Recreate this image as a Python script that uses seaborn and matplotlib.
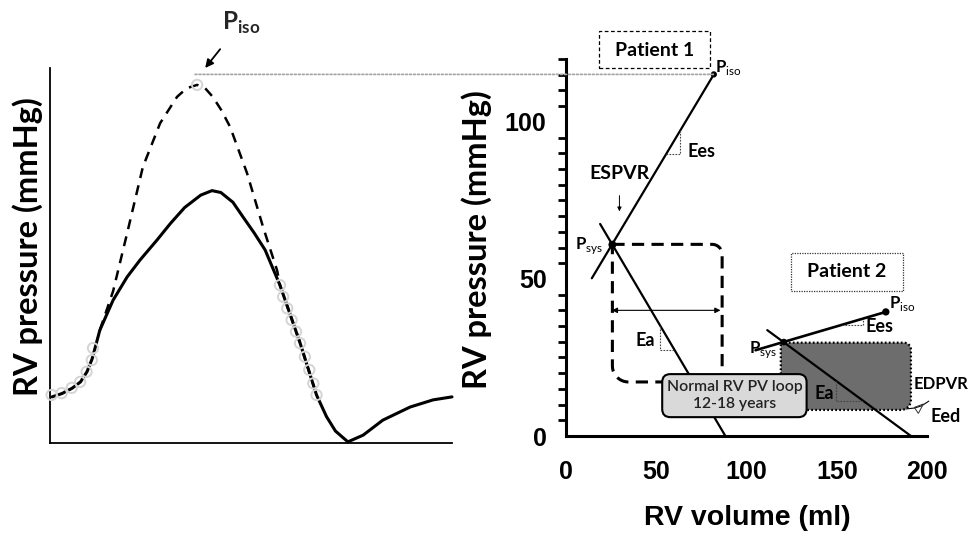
import numpy as np
import pandas as pd
import seaborn as sns
import matplotlib
import matplotlib.pyplot as plt
from matplotlib.patches import FancyBboxPatch, Rectangle, PathPatch, ConnectionPatch, Polygon
from matplotlib.path import Path
from matplotlib import transforms

matplotlib.use("Agg")

# left panel: pressure trace over one beat (arbitrary time / pressure units)
solid_t = [0.5, 3, 5.5, 7.6, 9.2, 10.5, 12.4, 15.7, 19.2, 22.4, 26.6, 30, 33.5, 37.5, 40.3, 42.5, 45.5, 48,
           50.8, 53.5, 57.2, 62.2, 66.3, 68.8, 71, 74.1, 77.9, 82.8, 89.6, 95.3, 100]
solid_p = [12.3, 13.2, 14.6, 16.3, 19, 22.5, 30.1, 38.1, 44.3, 48.8, 54.1, 58.6, 62.8, 66.1, 67.3, 66.8, 64.2, 60.3,
           56, 51.5, 42.1, 26.7, 12.8, 7.0, 3.2, 0.3, 2.1, 6.1, 9.6, 11.5, 12.3]
dashed_t = [12.4, 15.7, 19.2, 23.1, 27.4, 31.6, 34, 36.6, 38.6, 40.5, 42.6, 44.8, 49, 53, 56.5, 57.2, 62.2, 66.3]
dashed_p = [30.1, 40.5, 56, 73.6, 85.3, 92.3, 94.6, 95.5, 94.6, 92.3, 88.8, 84.3, 72, 57.6, 46, 42.1, 26.7, 12.8]
circle_t = [0.4, 2.9, 5.4, 7.5, 9.1, 10.4, 10.7, 36.6,
            57.2, 58.0, 59.0, 60.1, 61.2, 62.2, 63.4, 64.5, 65.5, 66.3]
circle_p = [12.8, 13.3, 14.7, 16.3, 19, 22.1, 25.3, 95.5,
            42.1, 39.0, 35.9, 32.8, 29.7, 26.6, 23.0, 19.5, 15.9, 12.8]

# right panel: PV relations (ml, mmHg)
espvr1_v = [14.3, 81.9]
espvr1_p = [50.2, 115.1]
ea1_v = [18.9, 88.3]
ea1_p = [67.5, 0.0]
psys1 = (25.7, 60.9)
piso1 = (81.9, 115.1)
loop1 = dict(esv=25.7, edv=86.5, p_low=17.2, p_high=61.0)

espvr2_v = [105.0, 177.2]
espvr2_p = [27.3, 39.5]
ea2_v = [111.5, 191.1]
ea2_p = [33.7, 0.0]
psys2 = (120.7, 29.9)
piso2 = (177.2, 39.5)
loop2 = dict(esv=119.0, edv=191.1, p_low=8.3, p_high=29.7)
edpvr_v = [188.3, 193, 197, 201]
edpvr_p = [8.6, 8.9, 9.6, 11.1]

x_ticks = [0, 50, 100, 150, 200]
y_ticks = [0, 50, 100]

sns.set_theme(style="white")
plt.rcParams['font.family'] = ['Lato', 'DejaVu Sans']
plt.rcParams['mathtext.fontset'] = 'custom'
plt.rcParams['mathtext.rm'] = 'Lato'
plt.rcParams['mathtext.bf'] = 'Lato:bold'

fig = plt.figure(figsize=(9.69, 5.39), dpi=100)
W, H = 969, 539
ax1 = fig.add_axes([50 / W, 1 - 443 / H, 402 / W, 375 / H])
ax2 = fig.add_axes([566 / W, 1 - 436 / H, 361 / W, 377 / H])

# ---------- left panel
ax1.set_xlim(0, 100)
ax1.set_ylim(0, 100)
sns.lineplot(x=solid_t, y=solid_p, ax=ax1, color="black", lw=2.2, sort=False, estimator=None)
sns.lineplot(x=dashed_t, y=dashed_p, ax=ax1, color="black", lw=1.8, sort=False, estimator=None,
             linestyle=(0, (4, 3)))
ax1.scatter(circle_t, circle_p, s=55, facecolors="none", edgecolors="#d4d4d4", lw=1.4, zorder=4, clip_on=False)
for ln in ax1.lines:
    ln.set_clip_on(False)
    ln.set_solid_joinstyle("round")
for s in ["top", "right"]:
    ax1.spines[s].set_visible(False)
for s in ["left", "bottom"]:
    ax1.spines[s].set_color("black")
    ax1.spines[s].set_linewidth(1.3)
ax1.set_xticks([])
ax1.set_yticks([])
ax1.set_ylabel("RV pressure (mmHg)", fontsize=23.5, fontweight="bold", color="black")
ax1.yaxis.set_label_coords(-0.017, 0.523)
ax1.annotate(r"$\mathbf{P}_{\mathbf{iso}}$", xy=(38.6, 100), xytext=(47.5, 112), fontsize=17.5,
             ha="center", va="center", annotation_clip=False,
             arrowprops=dict(arrowstyle="-|>", color="black", lw=1.3, mutation_scale=12,
                             shrinkA=9, shrinkB=0))

# ---------- right panel
ax2.set_xlim(0, 200)
ax2.set_ylim(0, 120)
sx = 361 / 200
sy = 377 / 120


def line_fn(vs, ps):
    k = (ps[1] - ps[0]) / (vs[1] - vs[0])
    return lambda v: ps[0] + k * (v - vs[0])


def loop_path(x0, x1, y0, y1, radii, n=12):
    bl, br, tr, tl = radii
    verts = []

    def arc(cx, cy, r, a0, a1):
        a = np.linspace(a0, a1, n)
        return list(zip(cx + r / sx * np.cos(a), cy + r / sy * np.sin(a)))
    verts += arc(x0 + tl / sx, y1 - tl / sy, tl, np.pi, np.pi / 2)
    verts += arc(x1 - tr / sx, y1 - tr / sy, tr, np.pi / 2, 0)
    verts += arc(x1 - br / sx, y0 + br / sy, br, 0, -np.pi / 2)
    verts += arc(x0 + bl / sx, y0 + bl / sy, bl, -np.pi / 2, -np.pi)
    verts.append(verts[0])
    return Path(verts)


def slope_triangle(f, xa, xb, rising):
    if rising:
        xs = [xa, xb, xb]
        ys = [f(xa), f(xa), f(xb)]
    else:
        xs = [xa, xa, xb]
        ys = [f(xa), f(xb), f(xb)]
    ax2.plot(xs, ys, color="#444444", lw=0.8, ls=(0, (1.5, 1.2)), zorder=3)


# patient 2 loop (filled, dotted border)
p2 = PathPatch(loop_path(loop2["esv"], loop2["edv"], loop2["p_low"], loop2["p_high"], (0, 10, 7, 0)),
               facecolor="#6d6d6d", edgecolor="black", lw=1.6, ls=(0, (0.8, 1.0)), zorder=2)
ax2.add_patch(p2)
# patient 1 loop (dashed)
p1 = PathPatch(loop_path(loop1["esv"], loop1["edv"], loop1["p_low"], loop1["p_high"], (16, 10, 10, 0)),
               facecolor="none", edgecolor="black", lw=2.2, ls=(0, (4, 2.4)), zorder=2)
ax2.add_patch(p1)

for vs, ps, lw in [(espvr1_v, espvr1_p, 1.6), (ea1_v, ea1_p, 1.6), (espvr2_v, espvr2_p, 1.9), (ea2_v, ea2_p, 1.6)]:
    sns.lineplot(x=vs, y=ps, ax=ax2, color="black", lw=lw, sort=False, estimator=None, zorder=3)
sns.lineplot(x=edpvr_v, y=edpvr_p, ax=ax2, color="black", lw=0.8, sort=False, estimator=None, zorder=3)
for ln in ax2.lines:
    ln.set_clip_on(False)

ax2.scatter([psys1[0], piso1[0], psys2[0], piso2[0]], [psys1[1], piso1[1], psys2[1], piso2[1]],
            s=[22, 12, 14, 18], color="black", zorder=4, clip_on=False)

f_espvr1 = line_fn(espvr1_v, espvr1_p)
f_ea1 = line_fn(ea1_v, ea1_p)
f_espvr2 = line_fn(espvr2_v, espvr2_p)
f_ea2 = line_fn(ea2_v, ea2_p)
slope_triangle(f_espvr1, 55.4, 63.3, True)
slope_triangle(f_ea1, 52.2, 60.2, False)
slope_triangle(f_espvr2, 153, 164.3, True)
slope_triangle(f_ea2, 149.4, 164.7, False)
ax2.add_patch(Polygon([(193, 9.1), (198, 10.2), (195.2, 7.2)], closed=True, fill=False,
                      edgecolor="#333333", lw=0.7, clip_on=False, zorder=3))

# stroke volume arrow
ax2.annotate("", xy=(25.4, 40), xytext=(85.6, 40),
             arrowprops=dict(arrowstyle="<|-|>", color="black", lw=0.8, mutation_scale=8,
                             shrinkA=0, shrinkB=0))
ax2.annotate("", xy=(29.6, 71.5), xytext=(29.6, 76.5),
             arrowprops=dict(arrowstyle="-|>", color="black", lw=0.7, mutation_scale=6,
                             shrinkA=0, shrinkB=0))

txt = dict(fontweight="bold", color="black", clip_on=False, zorder=6)
ax2.text(29.6, 83.4, "ESPVR", fontsize=14, ha="center", va="center", **txt)
ax2.text(67.2, 90.6, "Ees", fontsize=13, ha="left", va="center", **txt)
ax2.text(49.4, 30.5, "Ea", fontsize=13, ha="right", va="center", **txt)
ax2.text(20.6, 60.6, r"$\mathbf{P}_{\mathrm{sys}}$", fontsize=12, ha="right", va="center", **txt)
ax2.text(82.8, 117.3, r"$\mathbf{P}_{\mathrm{iso}}$", fontsize=12, ha="left", va="center", **txt)
ax2.text(117, 27.6, r"$\mathbf{P}_{\mathrm{sys}}$", fontsize=12, ha="right", va="center", **txt)
ax2.text(178.9, 42.2, r"$\mathbf{P}_{\mathrm{iso}}$", fontsize=12, ha="left", va="center", **txt)
ax2.text(166, 34.7, "Ees", fontsize=13, ha="left", va="center", **txt)
ax2.text(148.3, 13.5, "Ea", fontsize=13, ha="right", va="center", **txt)
ax2.text(192.4, 16.6, "EDPVR", fontsize=12, ha="left", va="center", **txt)
ax2.text(202, 6.3, "Eed", fontsize=13, ha="left", va="center", **txt)

# patient boxes
ax2.add_patch(Rectangle((18.3, 117.1), 61.7, 11.8, fill=False, edgecolor="black", lw=0.9,
                        ls=(0, (3, 2)), clip_on=False, zorder=5))
ax2.text(49.2, 122.6, "Patient 1", fontsize=14, ha="center", va="center", **txt)
ax2.add_patch(Rectangle((124.4, 46.3), 62.3, 11.8, fill=False, edgecolor="#333333", lw=0.9,
                        ls=(0, (1, 1)), clip_on=False, zorder=5))
ax2.text(155.6, 52.4, "Patient 2", fontsize=14, ha="center", va="center", **txt)

# normal loop label
lab = FancyBboxPatch((53.3, 6.0), 80, 13.7, boxstyle="round,pad=0,rounding_size=4.5",
                     mutation_aspect=sx / sy, facecolor="#d9d9d9", edgecolor="black", lw=1.5,
                     clip_on=False, zorder=5)
ax2.add_patch(lab)
ax2.text(93.3, 12.9, "Normal RV PV loop\n12-18 years", fontsize=11.3, ha="center", va="center",
         linespacing=1.3, fontweight="semibold", color="#222222", zorder=6)

# axes styling
for s in ["top", "right"]:
    ax2.spines[s].set_visible(False)
for s in ["left", "bottom"]:
    ax2.spines[s].set_color("black")
    ax2.spines[s].set_linewidth(2.2)
ax2.set_xticks(x_ticks)
ax2.set_yticks(y_ticks)
ax2.set_yticks(np.arange(0, 121, 5), minor=True)
ax2.tick_params(axis="both", which="major", direction="out", length=10, width=2.2, color="black",
                labelcolor="black")
ax2.tick_params(axis="y", which="minor", direction="out", length=5.5, width=2.0, color="black", left=True)
ax2.tick_params(axis="x", which="major", pad=7)
ax2.tick_params(axis="y", which="major", pad=4)
for lab_t in ax2.get_xticklabels() + ax2.get_yticklabels():
    lab_t.set_fontfamily("Liberation Sans")
    lab_t.set_fontweight("bold")
    lab_t.set_fontsize(18)
ax2.set_xlabel("RV volume (ml)", fontsize=20.5, fontweight="bold", family="Liberation Sans", color="black")
ax2.xaxis.set_label_coords(0.501, -0.183)
ax2.set_ylabel("RV pressure (mmHg)", fontsize=23.5, fontweight="bold", color="black")
ax2.yaxis.set_label_coords(-0.205, 0.52)

# dotted line linking the isovolumic peak to Piso
con = ConnectionPatch(xyA=(36.1, piso1[1]), coordsA=transforms.blended_transform_factory(ax1.transData, ax2.transData),
                      xyB=piso1, coordsB=ax2.transData, color="#a8a8a8", lw=1.3, ls=(0, (1, 1.2)))
fig.add_artist(con)

fig.savefig("out.png", dpi=100)
